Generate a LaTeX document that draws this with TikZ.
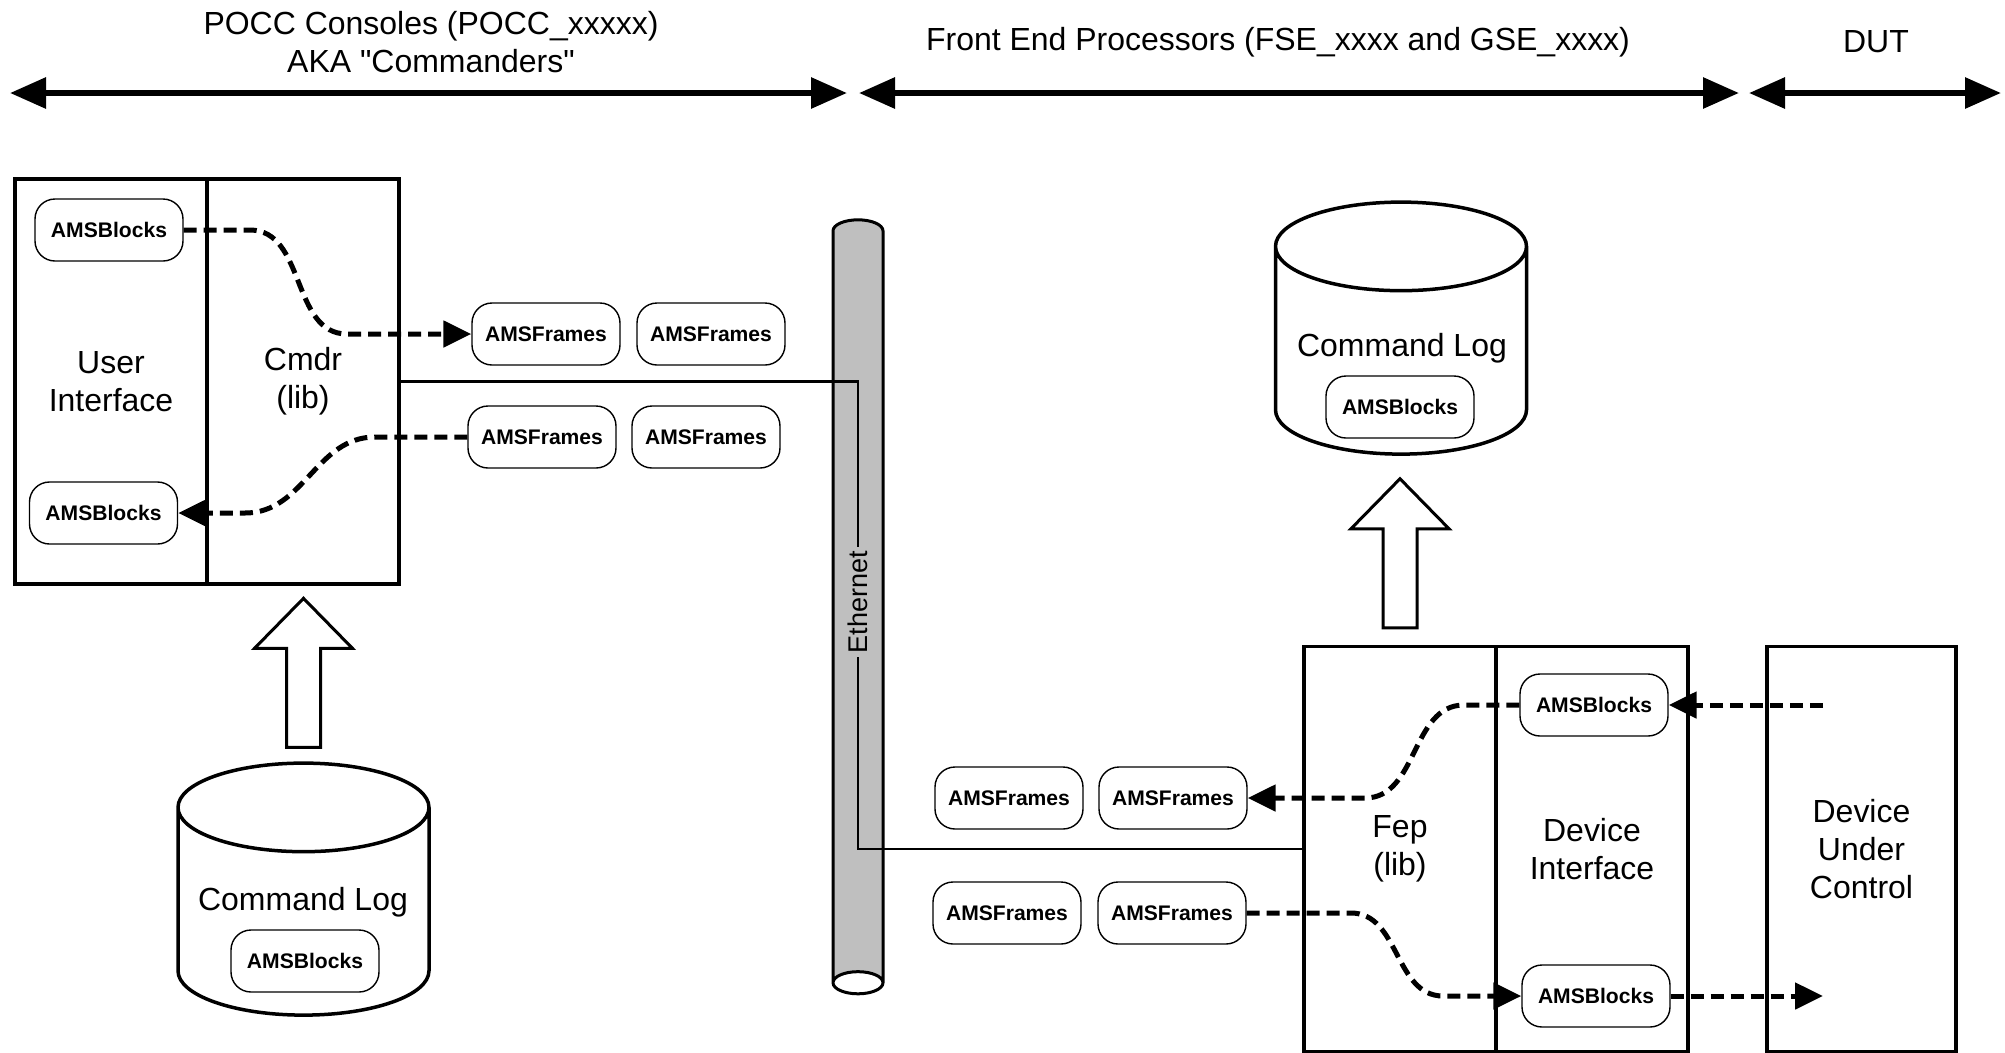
\documentclass[tikz,border=0pt]{standalone}
\usepackage{fontspec}
\setmainfont{Liberation Sans}[Ligatures=TeXOff]
\usetikzlibrary{arrows.meta,shapes.geometric}

\newcommand{\bigtxt}{\fontsize{9.1pt}{10.8pt}\selectfont}
\newcommand{\amstxt}{\fontsize{6pt}{7pt}\selectfont\bfseries}

\tikzset{
  amsbox/.style={rectangle,rounded corners=0.2cm,draw,line width=0.4pt,
    minimum width=1.48cm,minimum height=0.62cm,inner sep=1pt,font=\amstxt},
  unitbox/.style={rectangle,draw,line width=0.035cm,minimum width=1.92cm,
    minimum height=4.05cm,align=center,font=\bigtxt},
  logdb/.style={cylinder,shape border rotate=90,draw,line width=0.035cm,inner sep=3pt,
    minimum width=2.51cm,minimum height=2.52cm,aspect=4.2},
  span/.style={line width=0.06cm,
    {Triangle[length=0.36cm,width=0.30cm]}-{Triangle[length=0.36cm,width=0.30cm]}},
  flow/.style={line width=0.05cm,dash pattern=on 0.13cm off 0.07cm,
    -{Triangle[length=0.28cm,width=0.26cm]}},
  link/.style={line width=0.025cm},
  upblock/.pic={\draw[line width=0.03cm,fill=white] (-0.17,0) -- (-0.17,0.99)
    -- (-0.49,0.99) -- (0,1.49) -- (0.49,0.99) -- (0.17,0.99) -- (0.17,0) -- cycle;}
}

\begin{document}
\begin{tikzpicture}
    \useasboundingbox (0,0) rectangle (20.05,-10.53);
    % headings
    \node (poccttl) at (4.31,-0.42) [align=center,font=\bigtxt] {POCC Consoles (POCC\_xxxxx)\\AKA "Commanders"};
    \node (fepttl) at (12.78,-0.42) [font=\bigtxt] {Front End Processors (FSE\_xxxx and GSE\_xxxx)};
    \node (dutttl) at (18.76,-0.42) [font=\bigtxt] {DUT};
    \coordinate (s0) at (0.10,-0.93);
    \coordinate (s1) at (8.47,-0.93);
    \coordinate (s2) at (8.59,-0.93);
    \coordinate (s3) at (17.39,-0.93);
    \coordinate (s4) at (17.49,-0.93);
    \coordinate (s5) at (20.01,-0.93);
    \draw[span] (s0) -- (s1);
    \draw[span] (s2) -- (s3);
    \draw[span] (s4) -- (s5);

    % commander side
    \node (ui) at (1.11,-3.815) [unitbox] {User\\Interface};
    \node (cmdr) at (3.03,-3.815) [unitbox] {Cmdr\\(lib)};
    \node (blkUIa) at (1.09,-2.30) [amsbox] {AMSBlocks};
    \node (blkUIb) at (1.035,-5.13) [amsbox] {AMSBlocks};
    \node (frmA1) at (5.46,-3.34) [amsbox] {AMSFrames};
    \node (frmA2) at (7.11,-3.34) [amsbox] {AMSFrames};
    \node (frmB1) at (5.42,-4.37) [amsbox] {AMSFrames};
    \node (frmB2) at (7.06,-4.37) [amsbox] {AMSFrames};
    \node (logL) at (3.035,-9.21) [logdb] {};
    \node (logLtxt) at (3.03,-9.02) [font=\bigtxt] {Command Log};
    \node (blkLogL) at (3.05,-9.61) [amsbox] {AMSBlocks};
    \pic at ([yshift=0.14cm]logL.north) {upblock};

    % ethernet
    \node (eth) at (8.58,-5.96) [cylinder,shape border rotate=270,draw,line width=0.03cm,
      inner sep=3pt,minimum width=0.5cm,minimum height=7.74cm,aspect=1.05,
      cylinder uses custom fill,cylinder body fill=gray!50,cylinder end fill=white] {};
    \node (ethlbl) at (8.58,-6.02) [rotate=90,inner sep=1pt,font=\fontsize{7.7pt}{9pt}\selectfont] {Ethernet};

    % front end side
    \node (fep) at (14.00,-8.49) [unitbox] {Fep\\(lib)};
    \node (devif) at (15.92,-8.49) [unitbox] {Device\\Interface};
    \node (dut) at (18.615,-8.49) [unitbox,minimum width=1.89cm] {Device\\Under\\Control};
    \node (blkDIa) at (15.94,-7.05) [amsbox] {AMSBlocks};
    \node (blkDIb) at (15.96,-9.96) [amsbox] {AMSBlocks};
    \node (frmC1) at (10.09,-7.98) [amsbox] {AMSFrames};
    \node (frmC2) at (11.73,-7.98) [amsbox] {AMSFrames};
    \node (frmD1) at (10.07,-9.13) [amsbox] {AMSFrames};
    \node (frmD2) at (11.72,-9.13) [amsbox] {AMSFrames};
    \node (logR) at (14.01,-3.60) [logdb] {};
    \node (logRtxt) at (14.02,-3.48) [font=\bigtxt] {Command Log};
    \node (blkLogR) at (14.00,-4.07) [amsbox] {AMSBlocks};
    \pic at ([yshift=0.17cm]fep.north) {upblock};
    \coordinate (dutIn) at (18.23,-7.05);
    \coordinate (dutOut) at (18.23,-9.96);

    \draw[link] (cmdr.east) -| (ethlbl) |- (fep.west);

    \draw[flow] (blkUIa.east) -- (2.50,-2.30) to[out=0,in=180] (3.47,-3.34) -- (frmA1.west);
    \draw[flow] (frmB1.west) -- (3.75,-4.37) to[out=180,in=0] (2.45,-5.13) -- (blkUIb.east);
    \draw[flow] (dutIn) -- (blkDIa.east);
    \draw[flow] (blkDIa.west) -- (14.64,-7.05) to[out=180,in=0] (13.65,-7.98) -- (frmC2.east);
    \draw[flow] (frmD2.east) -- (13.51,-9.13) to[out=0,in=180] (14.43,-9.96) -- (blkDIb.west);
    \draw[flow] (blkDIb.east) -- (dutOut);
  \end{tikzpicture}
\end{document}
